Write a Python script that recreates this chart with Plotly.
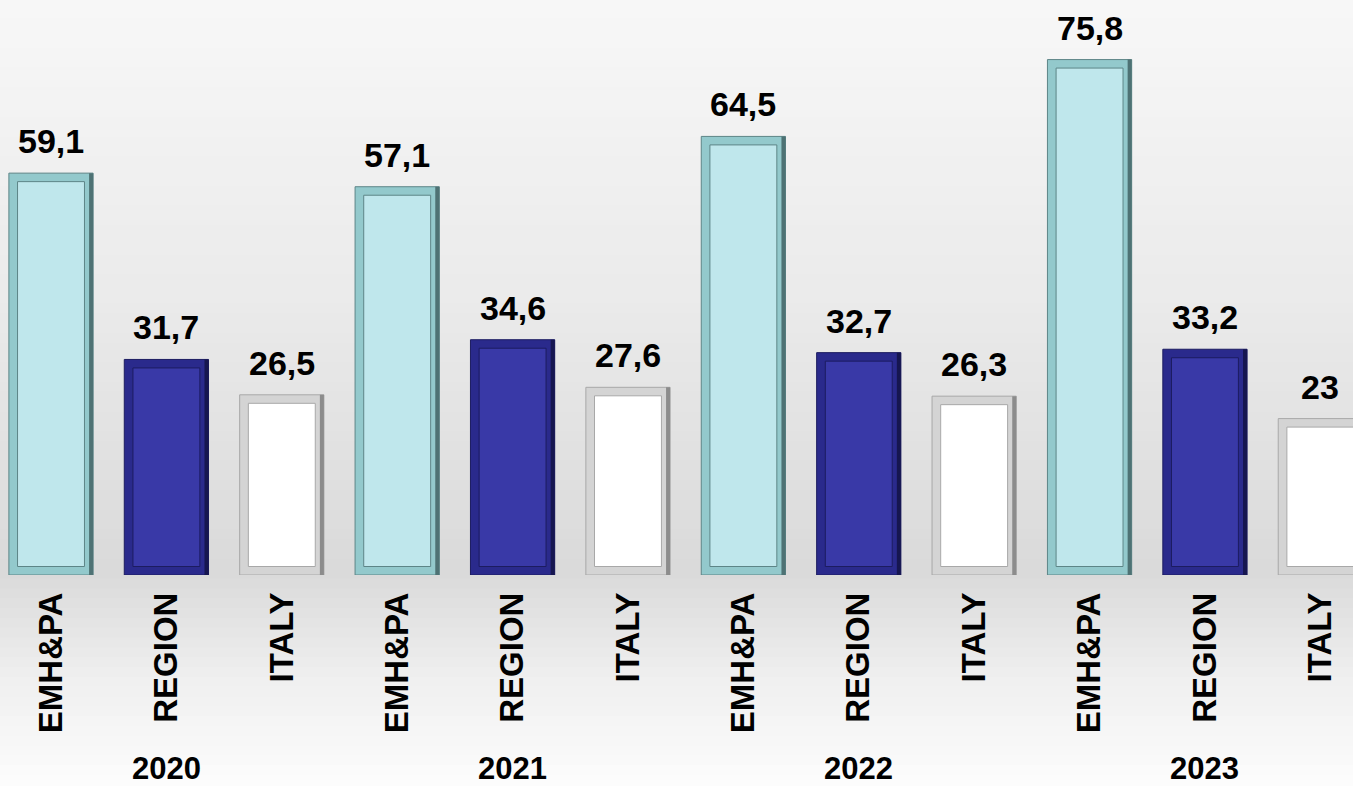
import plotly.graph_objects as go

# data
years = ["2020", "2021", "2022", "2023"]
groups = ["EMH&PA", "REGION", "ITALY"]
emhpa = [59.1, 57.1, 64.5, 75.8]
region = [31.7, 34.6, 32.7, 33.2]
italy = [26.5, 27.6, 26.3, 23.0]

FONT = "Arial, Liberation Sans, sans-serif"

# fill, bevel, dark edge, outline
STYLES = {
    "EMH&PA": ("#bfe7ec", "#93c9cc", "#4e7274", "#5d8587"),
    "REGION": ("#3939a7", "#2a2a8c", "#161650", "#1c1c60"),
    "ITALY": ("#ffffff", "#d4d4d4", "#8c8c8c", "#a8a8a8"),
}

series = [emhpa, region, italy]
xs, vals, names = [], [], []
for j, yr in enumerate(years):
    for k, g in enumerate(groups):
        xs.append(3 * j + k)
        vals.append(series[k][j])
        names.append(g)


def fmt(v):
    return f"{v:g}".replace(".", ",")


fig = go.Figure()

for k, g in enumerate(groups):
    fill, bevel, dark, outline = STYLES[g]
    gx = [x for x, n in zip(xs, names) if n == g]
    gy = [v for v, n in zip(vals, names) if n == g]
    # outer bevel frame
    fig.add_trace(go.Bar(x=gx, y=gy, width=0.73, marker_color=bevel,
                         marker_line=dict(color=outline, width=1),
                         hoverinfo="skip", showlegend=False))
    # darker right edge
    fig.add_trace(go.Bar(x=gx, y=gy, width=0.035, offset=0.33,
                         marker_color=dark, marker_line_width=0,
                         hoverinfo="skip", showlegend=False))
    # inner face
    fig.add_trace(go.Bar(x=gx, y=[v - 2.5 for v in gy], base=1.25, width=0.58,
                         marker_color=fill,
                         marker_line=dict(color=outline, width=1),
                         name=g, showlegend=False))

# value labels above bars
for x, v in zip(xs, vals):
    fig.add_annotation(x=x, y=v, text=f"<b>{fmt(v)}</b>", showarrow=False,
                       yanchor="bottom", yshift=11,
                       font=dict(family=FONT, size=34, color="black"))

# year labels under each group
for j, yr in enumerate(years):
    fig.add_annotation(x=3 * j + 1, y=-0.336, yref="paper", text=f"<b>{yr}</b>",
                       showarrow=False, yanchor="middle",
                       font=dict(family=FONT, size=31, color="black"))

# soft vertical gradient background
stops = [(0, (248, 248, 248)), (300, (235, 235, 235)), (575, (218, 218, 218)),
         (680, (240, 240, 240)), (786, (253, 253, 253))]
shapes = []
steps = 80
for i in range(steps):
    p0 = 786 * i / steps
    p1 = 786 * (i + 1) / steps
    pm = (p0 + p1) / 2
    for (a, ca), (b, cb) in zip(stops[:-1], stops[1:]):
        if a <= pm <= b:
            t = (pm - a) / (b - a)
            c = tuple(int(ca[n] + (cb[n] - ca[n]) * t) for n in range(3))
            break
    shapes.append(dict(type="rect", xref="paper", yref="paper", layer="below",
                       x0=0, x1=1, y0=(575 - p1) / 575, y1=(575 - p0) / 575 + 0.002,
                       fillcolor=f"rgb{c}", line_width=0))

fig.update_layout(
    width=1353, height=786,
    barmode="overlay",
    margin=dict(l=0, r=0, t=0, b=211),
    paper_bgcolor="#f4f4f4",
    plot_bgcolor="rgba(0,0,0,0)",
    shapes=shapes,
    showlegend=False,
    font=dict(family=FONT),
)
fig.update_xaxes(range=[-0.442, 11.283], tickvals=xs, ticktext=[f"<b>{n}</b>" for n in names],
                 tickangle=-90, tickfont=dict(family=FONT, size=33, color="black"),
                 showgrid=False, zeroline=False, showline=False, ticks="",
                 ticklabelstandoff=10)
fig.update_yaxes(range=[0, 84.56], visible=False)

fig.write_html("out.html", config={"displayModeBar": False},
               post_script="document.body.style.margin='0';document.body.style.overflow='hidden';")
